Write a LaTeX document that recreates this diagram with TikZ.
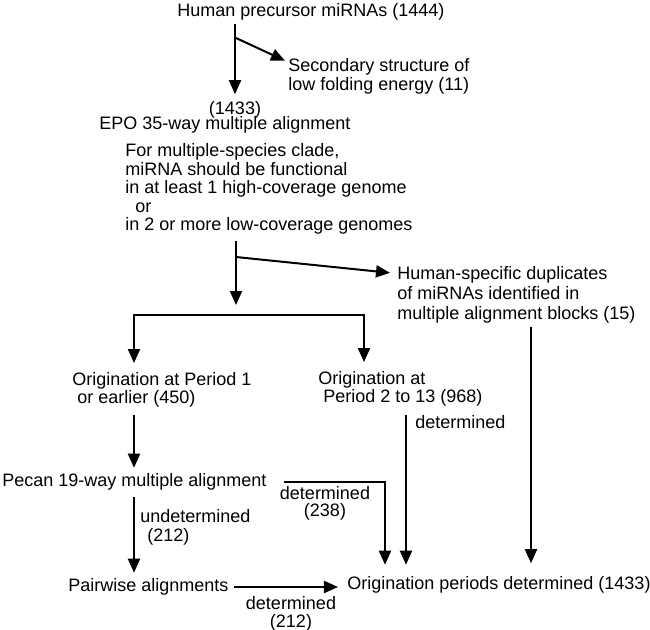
\documentclass[tikz,border=0pt]{standalone}
\usepackage{fontspec}
\setmainfont{Liberation Sans}
\usetikzlibrary{arrows.meta}

\begin{document}
\begin{tikzpicture}[x=0.5pt,y=-0.5pt,
    txt/.style={font=\fontsize{9}{9.5}\selectfont, inner sep=1.5pt, align=left},
    arr/.style={-{Triangle[length=7pt,width=6pt]}, line width=1pt}]
    \useasboundingbox (0,0) rectangle (650,629);

    % texts
    \node[txt] (title) at (311,12) {Human precursor miRNAs (1444)};
    \node[txt,anchor=west] (lowfold) at (285,76) {Secondary structure of\\low folding energy (11)};
    \node[txt] (n1433) at (235,110) {(1433)};
    \node[txt,anchor=west] (epo) at (96,125) {EPO 35-way multiple alignment};
    \node[txt,anchor=west,font=\fontsize{9}{9.2}\selectfont] (crit) at (122,189) {For multiple-species clade,\\miRNA should be functional\\in at least 1 high-coverage genome\\\hspace*{5pt}or\\in 2 or more low-coverage genomes};
    \node[txt,anchor=west,font=\fontsize{9}{10}\selectfont] (dup) at (394,295) {Human-specific duplicates\\of miRNAs identified in\\multiple alignment blocks (15)};
    \node[txt,anchor=west,font=\fontsize{9}{9.2}\selectfont] (orig1) at (69,390) {Origination at Period 1\\\hspace*{2.5pt}or earlier (450)};
    \node[txt,anchor=west,font=\fontsize{9}{9.2}\selectfont] (orig2) at (315,389) {Origination at\\\hspace*{2.5pt}Period 2 to 13 (968)};
    \node[txt,anchor=west] (pecan) at (-1,482) {Pecan 19-way multiple alignment};
    \node[txt,anchor=west] (pairwise) at (65,587) {Pairwise alignments};
    \node[txt,anchor=west] (final) at (344,585) {Origination periods determined (1433)};

    % labels
    \node[txt,anchor=west] (detA) at (412,422) {determined};
    \node[txt,align=center,font=\fontsize{9}{8.6}\selectfont] (det238) at (325,503) {determined\\(238)};
    \node[txt,anchor=west] (undet) at (137,527) {undetermined\\\hspace*{3.5pt}(212)};
    \node[txt,align=center,font=\fontsize{9}{8.8}\selectfont] (det212) at (291,614) {determined\\(212)};

    \coordinate (fork1) at (236,38);
    \coordinate (fork2) at (236,257);
    \coordinate (split) at (236,315);
    \coordinate (colL) at (134,0);
    \coordinate (colR) at (364,0);
    \coordinate (colD) at (406,0);
    \coordinate (colP) at (385,0);
    \coordinate (colH) at (531,0);

    % arrows
    \draw[arr, shorten >=2pt] (title.south -| n1433) -- (n1433.north);
    \draw[arr] (fork1) -- ([yshift=-3pt]lowfold.north west);
    \draw[arr, shorten <=1.75pt, shorten >=5pt] (crit.south -| split) -- (split);
    \draw[arr, shorten >=2pt] (fork2) -- ([yshift=-5pt]dup.north west);
    \draw[arr, shorten >=3pt] (split) -| (orig1.north -| colL);
    \draw[arr, shorten >=3pt] (split) -| (orig2.north -| colR);
    \draw[arr, shorten <=2pt, shorten >=1.25pt] (orig1.south -| colL) -- (pecan.north -| colL);
    \draw[arr, shorten <=2.5pt, shorten >=4.25pt] (orig2.south -| colD) -- (final.north -| colD);
    \draw[arr, shorten >=5pt] (dup.south -| colH) -- (final.north -| colH);
    \draw[arr, shorten <=7pt, shorten >=4.25pt] (pecan.east) -| (final.north -| colP);
    \draw[arr, shorten <=1.75pt, shorten >=1.25pt] (pecan.south -| colL) -- (pairwise.north -| colL);
    \draw[arr, shorten <=1pt, shorten >=3pt] (pairwise.east) -- (final.west |- pairwise.east);
\end{tikzpicture}
\end{document}
